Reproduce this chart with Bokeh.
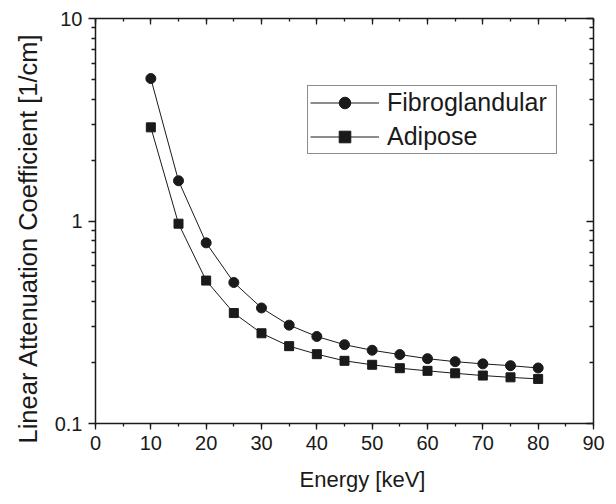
from bokeh.plotting import figure
from bokeh.models import (Range1d, LinearAxis, LogAxis, FixedTicker, SingleIntervalTicker,
                          CustomJSTickFormatter, Legend, LegendItem, Title)
from bokeh.embed import file_html
from bokeh.resources import INLINE

# ---- data ----
energy = [10, 15, 20, 25, 30, 35, 40, 45, 50, 55, 60, 65, 70, 75, 80]
fibroglandular = [5.05, 1.58, 0.78, 0.497, 0.372, 0.306, 0.269, 0.245, 0.230, 0.219,
                  0.209, 0.202, 0.197, 0.193, 0.188]
adipose = [2.90, 0.97, 0.508, 0.351, 0.279, 0.241, 0.220, 0.204, 0.195, 0.1875,
           0.182, 0.177, 0.1725, 0.169, 0.166]
x_major_ticks = [0, 10, 20, 30, 40, 50, 60, 70, 80, 90]
y_major_ticks = [0.1, 1, 10]
y_tick_labels = ["0.1", "1", "10"]
y_minor_ticks = [0.2, 0.3, 0.4, 0.5, 0.6, 0.7, 0.8, 0.9, 2, 3, 4, 5, 6, 7, 8, 9]
x_title = "Energy [keV]"
y_title = "Linear Attenuation Coefficient [1/cm]"

FONT = "Liberation Sans"
INK = "#1a1a1a"

p = figure(width=616, height=504, output_backend="svg", toolbar_location=None,
           x_range=Range1d(0, 90), y_range=Range1d(0.1, 10), y_axis_type="log",
           min_border_left=95, min_border_right=23, min_border_top=18, min_border_bottom=81)
p.xgrid.visible = False
p.ygrid.visible = False
p.outline_line_color = None
p.background_fill_color = "white"
p.border_fill_color = "white"

y_fmt = CustomJSTickFormatter(args=dict(vals=y_major_ticks, labs=y_tick_labels),
                              code="const i = vals.indexOf(tick); return i >= 0 ? labs[i] : '';")
blank_fmt = CustomJSTickFormatter(code="return '';")


def style_axis(ax, tin, tout, min_in, min_out):
    ax.axis_line_color = INK
    ax.axis_line_width = 1.5
    ax.major_tick_line_color = INK
    ax.minor_tick_line_color = INK
    ax.major_tick_line_width = 1.3
    ax.minor_tick_line_width = 1.3
    ax.major_tick_in = tin
    ax.major_tick_out = tout
    ax.minor_tick_in = min_in
    ax.minor_tick_out = min_out
    ax.major_label_text_font = FONT
    ax.major_label_text_font_size = "20px"
    ax.major_label_text_color = INK


bx = p.xaxis[0]
bx.ticker = SingleIntervalTicker(interval=10, num_minor_ticks=2)
style_axis(bx, 0, 6, 0, 3)
bx.major_label_standoff = 6

ly = p.yaxis[0]
ly.ticker = FixedTicker(ticks=y_major_ticks, minor_ticks=y_minor_ticks)
ly.formatter = y_fmt
style_axis(ly, 0, 7, 0, 4)
ly.major_label_standoff = 6

top = LinearAxis(ticker=SingleIntervalTicker(interval=10, num_minor_ticks=2), formatter=blank_fmt)
style_axis(top, 6, 0, 3, 0)
top.major_label_text_font_size = "0px"
top.major_label_standoff = 0
p.add_layout(top, "above")

right = LogAxis(ticker=FixedTicker(ticks=y_major_ticks, minor_ticks=y_minor_ticks), formatter=blank_fmt)
style_axis(right, 7, 0, 4, 0)
right.major_label_text_font_size = "0px"
right.major_label_standoff = 0
p.add_layout(right, "right")

l1 = p.line(energy, fibroglandular, line_color=INK, line_width=1)
s1 = p.scatter(energy, fibroglandular, marker="circle", size=10, fill_color=INK, line_color=INK)
l2 = p.line(energy, adipose, line_color=INK, line_width=1)
s2 = p.scatter(energy, adipose, marker="square", size=9, fill_color=INK, line_color=INK)

legend = Legend(items=[LegendItem(label="Fibroglandular", renderers=[l1, s1]),
                       LegendItem(label="Adipose", renderers=[l2, s2])],
                location=(212, 269))
legend.border_line_color = INK
legend.border_line_width = 1
legend.background_fill_color = "white"
legend.background_fill_alpha = 1
legend.label_text_font = FONT
legend.label_text_font_size = "25px"
legend.label_text_color = INK
legend.glyph_width = 69
legend.glyph_height = 29
legend.label_height = 29
legend.label_width = 167
legend.label_standoff = 8
legend.padding = 2
legend.spacing = 5
legend.margin = 0
p.add_layout(legend)

p.add_layout(Title(text=x_title, align="left", offset=204, standoff=24,
                   text_font=FONT, text_font_size="22px", text_font_style="normal",
                   text_color=INK), "below")
p.add_layout(Title(text=y_title, align="left", offset=-20, standoff=20,
                   text_font=FONT, text_font_size="25.5px", text_font_style="normal",
                   text_color=INK), "left")

open("out.html", "w").write(file_html(p, INLINE))
